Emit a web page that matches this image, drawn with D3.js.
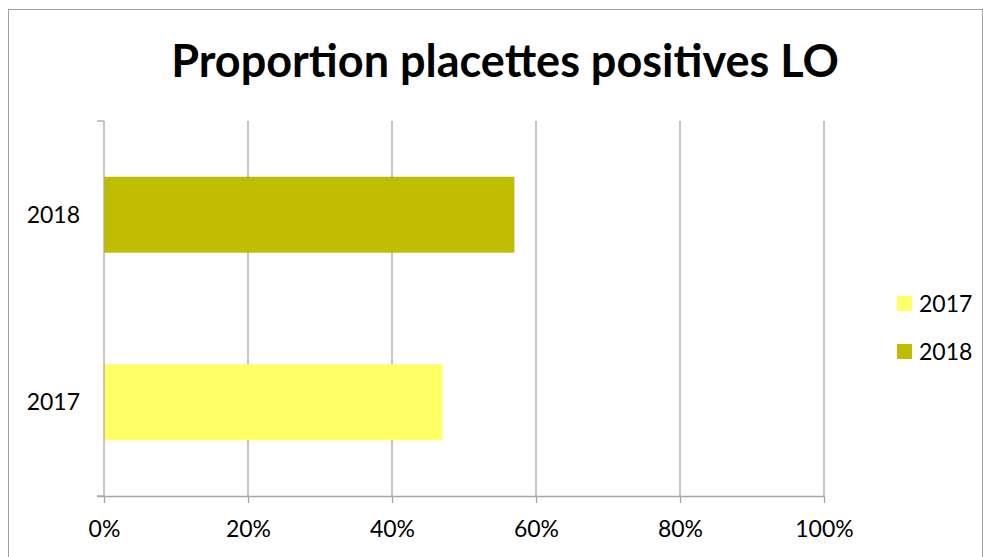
<!DOCTYPE html>
<html>
<head>
<meta charset="utf-8">
<script src="https://cdn.jsdelivr.net/npm/d3@7"></script>
<style>
  body { margin: 0; background: #fff; }
  svg { display: block; font-family: Lato, "Open Sans", sans-serif; }
</style>
</head>
<body>
<div id="chart"></div>
<script>
// data
const years = ["2017", "2018"];
const shares = [0.47, 0.57];
const colours = ["#ffff66", "#c0bc00"];
const xTicks = [0, 0.2, 0.4, 0.6, 0.8, 1];
const title = "Proportion placettes positives LO";

const W = 983, H = 557;
const margin = {top: 121, right: 159, bottom: 61, left: 104};

const svg = d3.select("#chart").append("svg")
    .attr("width", W)
    .attr("height", H);

// outer frame
svg.append("rect")
    .attr("x", 8.5).attr("y", 9.5)
    .attr("width", W - 9).attr("height", H)
    .attr("fill", "none")
    .attr("stroke", "#a0a0a0");

svg.append("text")
    .attr("x", 505).attr("y", 77)
    .attr("text-anchor", "middle")
    .attr("font-size", 45)
    .attr("font-weight", "bold")
    .text(title);

const x = d3.scaleLinear()
    .domain([0, 1])
    .range([margin.left, W - margin.right]);

// 2017 at bottom, 2018 on top
const y = d3.scaleBand()
    .domain(years.slice().reverse())
    .range([margin.top, H - margin.bottom])
    .paddingInner(0.595)
    .paddingOuter(0.2975);

const band = d3.scaleBand()
    .domain(years)
    .range([margin.top, H - margin.bottom]);

// vertical gridlines
svg.append("g")
    .selectAll("line")
    .data(xTicks.slice(1))
    .join("line")
    .attr("x1", d => x(d)).attr("x2", d => x(d))
    .attr("y1", margin.top).attr("y2", H - margin.bottom)
    .attr("stroke", "#a6a6a6")
    .attr("stroke-width", 1.3);

// bars
svg.append("g")
    .selectAll("rect")
    .data(years)
    .join("rect")
    .attr("x", x(0))
    .attr("y", d => y(d))
    .attr("width", (d, i) => x(shares[i]) - x(0))
    .attr("height", y.bandwidth())
    .attr("fill", (d, i) => colours[i]);

// x axis
const xAxis = svg.append("g")
    .attr("transform", `translate(0,${H - margin.bottom})`)
    .call(d3.axisBottom(x).tickValues(xTicks).tickFormat(d3.format(".0%")).tickSize(7).tickPadding(18));
xAxis.select(".domain").attr("stroke", "#a6a6a6").attr("stroke-width", 1.3)
    .attr("d", `M${x(0) - 7},0.5H${x(1)}`);
xAxis.selectAll(".tick line").attr("stroke", "#a6a6a6").attr("stroke-width", 1.3);
xAxis.selectAll(".tick text").attr("font-size", 23).attr("fill", "#000").attr("font-family", "Lato");

// y axis: separator ticks between categories
const yAxis = svg.append("g")
    .attr("transform", `translate(${x(0)},0)`);
yAxis.append("line")
    .attr("x1", 0).attr("x2", 0)
    .attr("y1", margin.top).attr("y2", H - margin.bottom)
    .attr("stroke", "#a6a6a6").attr("stroke-width", 1.3);
yAxis.selectAll(".sep")
    .data([margin.top, band(years[1]) + band.bandwidth()])
    .join("line")
    .attr("class", "sep")
    .attr("x1", -7).attr("x2", 0)
    .attr("y1", d => d).attr("y2", d => d)
    .attr("stroke", "#a6a6a6").attr("stroke-width", 1.3);
yAxis.selectAll("text")
    .data(years)
    .join("text")
    .attr("x", -24)
    .attr("y", d => y(d) + y.bandwidth() / 2)
    .attr("dy", "0.35em")
    .attr("text-anchor", "end")
    .attr("font-size", 23)
    .text(d => d);

// legend
const legend = svg.append("g")
    .attr("transform", "translate(897,296)");
const item = legend.selectAll("g")
    .data(years)
    .join("g")
    .attr("transform", (d, i) => `translate(0,${i * 48})`);
item.append("rect")
    .attr("width", 15).attr("height", 15)
    .attr("fill", (d, i) => colours[i]);
item.append("text")
    .attr("x", 22).attr("y", 7.5)
    .attr("dy", "0.35em")
    .attr("font-size", 23)
    .text(d => d);
</script>
</body>
</html>
